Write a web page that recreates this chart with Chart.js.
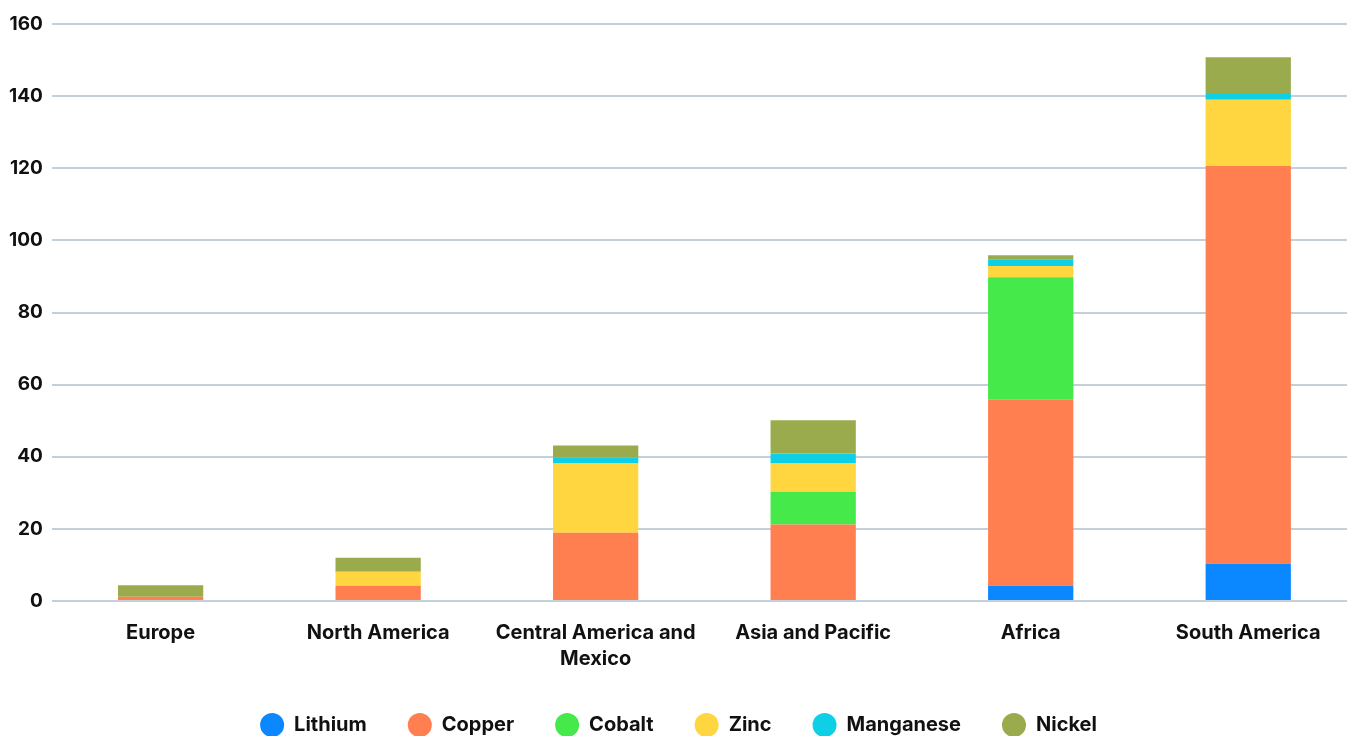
<!DOCTYPE html>
<html>
<head>
<meta charset="utf-8">
<script src="https://cdn.jsdelivr.net/npm/chart.js@4"></script>
<style>
html,body{margin:0;padding:0;background:#fff;overflow:hidden;}
#wrap{position:absolute;left:0;top:0;width:1357px;height:754px;}
</style>
</head>
<body>
<div id="wrap"><canvas id="c"></canvas></div>
<script>
const categories = ['Europe', 'North America', ['Central America and', 'Mexico'], 'Asia and Pacific', 'Africa', 'South America'];
const lithium   = [0,   0,    0,    0,    4.2,  10.3];
const copper    = [1.2, 4.2,  18.9, 21.2, 51.6, 110.3];
const cobalt    = [0,   0,    0,    9.1,  34.0, 0];
const zinc      = [0,   3.9,  19.2, 7.8,  3.1,  18.4];
const manganese = [0,   0,    1.7,  2.8,  1.9,  1.6];
const nickel    = [3.2, 3.9,  3.3,  9.2,  1.1,  10.2];
const yTicks = [0, 20, 40, 60, 80, 100, 120, 140, 160];

const series = [
  ['Lithium', lithium, '#0B87FF'],
  ['Copper', copper, '#FF7F50'],
  ['Cobalt', cobalt, '#45E94A'],
  ['Zinc', zinc, '#FFD540'],
  ['Manganese', manganese, '#0ECFE6'],
  ['Nickel', nickel, '#9AAB4D']
];

const legendLift = {
  id: 'legendLift',
  afterLayout(chart) {
    const lg = chart.legend;
    if (lg) { lg.top -= 9; lg.bottom -= 9; }
  }
};

new Chart(document.getElementById('c'), {
  type: 'bar',
  data: {
    labels: categories,
    datasets: series.map(([label, data, color]) => ({
      label, data, backgroundColor: color, borderWidth: 0,
      categoryPercentage: 0.392, barPercentage: 1
    }))
  },
  plugins: [legendLift],
  options: {
    responsive: true,
    maintainAspectRatio: false,
    animation: false,
    layout: { padding: { top: 24, left: 0, right: 0, bottom: 0 } },
    plugins: {
      tooltip: { enabled: false },
      legend: {
        position: 'bottom',
        labels: {
          usePointStyle: true,
          pointStyle: 'circle',
          boxWidth: 24, boxHeight: 17, pointStyleWidth: 24,
          padding: 41,
          color: '#111',
          font: { family: 'Inter', size: 20, weight: '700' }
        }
      }
    },
    scales: {
      x: {
        stacked: true,
        grid: { display: false },
        border: { display: false },
        ticks: {
          color: '#111',
          padding: 11,
          maxRotation: 0,
          autoSkip: false,
          font: { family: 'Inter', size: 20, weight: '700', lineHeight: 1.3 }
        }
      },
      y: {
        stacked: true,
        min: 0, max: 160,
        afterBuildTicks: (axis) => { axis.ticks = yTicks.map(v => ({ value: v })); },
        grid: { color: '#C3D0D7', lineWidth: 2, drawTicks: false },
        border: { display: false },
        ticks: {
          color: '#111',
          padding: 9,
          font: { family: 'Inter', size: 19, weight: '700' }
        }
      }
    }
  }
});
</script>
</body>
</html>
